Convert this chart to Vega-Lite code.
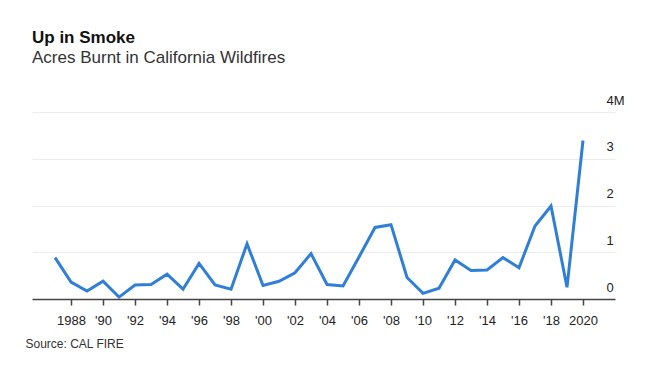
{
  "$schema": "https://vega.github.io/schema/vega-lite/v6.json",
  "autosize": "none",
  "width": 583,
  "height": 187,
  "padding": {"left": 32, "top": 112, "right": 35, "bottom": 68},
  "background": "white",
  "config": {
    "view": {"stroke": null},
    "font": "Liberation Sans"
  },
  "title": {
    "text": "Up in Smoke",
    "subtitle": "Acres Burnt in California Wildfires",
    "anchor": "start",
    "frame": "group",
    "fontSize": 17,
    "fontWeight": "bold",
    "color": "#111",
    "subtitleFontSize": 17,
    "subtitleColor": "#333",
    "subtitlePadding": 3,
    "offset": 27
  },
  "data": {
    "values": [
      {"year": 1987, "acres": 885000},
      {"year": 1988, "acres": 360000},
      {"year": 1989, "acres": 170000},
      {"year": 1990, "acres": 380000},
      {"year": 1991, "acres": 40000},
      {"year": 1992, "acres": 300000},
      {"year": 1993, "acres": 310000},
      {"year": 1994, "acres": 530000},
      {"year": 1995, "acres": 210000},
      {"year": 1996, "acres": 760000},
      {"year": 1997, "acres": 300000},
      {"year": 1998, "acres": 210000},
      {"year": 1999, "acres": 1180000},
      {"year": 2000, "acres": 290000},
      {"year": 2001, "acres": 380000},
      {"year": 2002, "acres": 560000},
      {"year": 2003, "acres": 970000},
      {"year": 2004, "acres": 310000},
      {"year": 2005, "acres": 280000},
      {"year": 2006, "acres": 900000},
      {"year": 2007, "acres": 1530000},
      {"year": 2008, "acres": 1590000},
      {"year": 2009, "acres": 460000},
      {"year": 2010, "acres": 120000},
      {"year": 2011, "acres": 230000},
      {"year": 2012, "acres": 835000},
      {"year": 2013, "acres": 610000},
      {"year": 2014, "acres": 620000},
      {"year": 2015, "acres": 885000},
      {"year": 2016, "acres": 670000},
      {"year": 2017, "acres": 1560000},
      {"year": 2018, "acres": 1990000},
      {"year": 2019, "acres": 250000},
      {"year": 2020, "acres": 3390000}
    ]
  },
  "mark": {"type": "line", "color": "#2f7fd9", "strokeWidth": 3, "strokeJoin": "miter"},
  "encoding": {
    "x": {
      "field": "year",
      "type": "quantitative",
      "scale": {"domain": [1985.56, 2022], "nice": false, "zero": false},
      "axis": {
        "values": [1988, 1990, 1992, 1994, 1996, 1998, 2000, 2002, 2004, 2006, 2008, 2010, 2012, 2014, 2016, 2018, 2020],
        "labelExpr": "datum.value == 1988 || datum.value == 2020 ? '' + datum.value : \"'\" + substring('' + datum.value, 2, 4)",
        "grid": false,
        "domainColor": "#444",
        "domainWidth": 1.5,
        "tickColor": "#444",
        "tickWidth": 1.5,
        "tickSize": 6,
        "labelFontSize": 13,
        "labelColor": "#222",
        "labelPadding": 9,
        "labelFlush": false,
        "title": "Source: CAL FIRE",
        "titleAnchor": "start",
        "titleAlign": "left",
        "titleX": -7,
        "titleY": 39,
        "titleFontSize": 12,
        "titleFontWeight": "normal",
        "titleColor": "#333"
      }
    },
    "y": {
      "field": "acres",
      "type": "quantitative",
      "scale": {"domain": [0, 4000000], "nice": false},
      "axis": {
        "orient": "right",
        "values": [0, 1000000, 2000000, 3000000, 4000000],
        "labelExpr": "datum.value == 4000000 ? '4M' : '' + datum.value / 1000000",
        "grid": true,
        "gridColor": "#ececec",
        "gridWidth": 1,
        "domain": false,
        "ticks": false,
        "labelAlign": "left",
        "labelBaseline": "alphabetic",
        "labelOffset": -8,
        "labelPadding": -9,
        "labelFontSize": 13,
        "labelColor": "#222",
        "title": null
      }
    }
  }
}
